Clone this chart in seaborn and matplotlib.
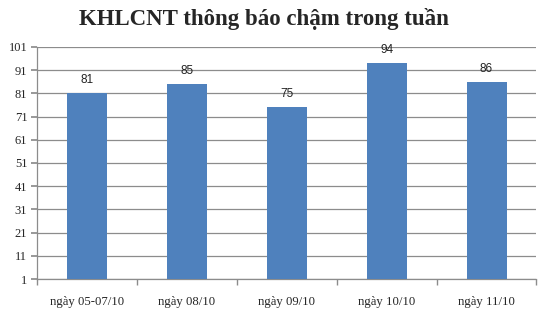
import matplotlib
matplotlib.use("Agg")
import matplotlib.pyplot as plt
import seaborn as sns
import pandas as pd

categories = ["ngày 05-07/10", "ngày 08/10", "ngày 09/10", "ngày 10/10", "ngày 11/10"]
values = [81, 85, 75, 94, 86]
yticks = [1, 11, 21, 31, 41, 51, 61, 71, 81, 91, 101]
title = "KHLCNT thông báo chậm trong tuần"

sns.set_theme(style="white")
plt.rcParams['font.family'] = ['Liberation Serif', 'DejaVu Serif']

df = pd.DataFrame({"cat": categories, "val": values})

fig = plt.figure(figsize=(5.4, 3.09), dpi=100)
ax = fig.add_axes([0.0685, 0.097, 0.925, 0.751])
sns.barplot(data=df, x="cat", y="val", color="#4F81BD", width=0.4, saturation=1,
            linewidth=0, edgecolor="none", ax=ax, zorder=3)

ax.set_ylim(1, 101)
ax.set_yticks(yticks)
ax.set_yticklabels([str(t) for t in yticks], fontsize=9)
ax.set_xlim(-0.5, len(categories) - 0.5)
ax.set_xticks(range(len(categories)))
ax.set_xticklabels(categories, fontsize=9.2)
ax.set_xlabel("")
ax.set_ylabel("")
ax.yaxis.grid(True, color="#8c8c8c", linewidth=0.9, zorder=0)
ax.set_axisbelow(True)
for s in ["top", "right"]:
    ax.spines[s].set_visible(False)
for s in ["left", "bottom"]:
    ax.spines[s].set_color("#8c8c8c")
    ax.spines[s].set_linewidth(0.9)
ax.tick_params(axis="y", which="both", left=True, length=4, color="#8c8c8c", pad=3)
ax.tick_params(axis="x", bottom=False, pad=6)
# category boundary ticks
ax.set_xticks([i - 0.5 for i in range(len(categories) + 1)], minor=True)
ax.tick_params(axis="x", which="minor", bottom=True, length=4, color="#8c8c8c")

for i, v in enumerate(values):
    ax.text(i, v + 3, str(v), ha="center", va="bottom", fontsize=8.5,
            family=["Liberation Sans", "DejaVu Sans"], color="#222222")

fig.text(0.488, 0.94, title, ha="center", va="center", fontsize=16.5, fontweight="bold")

fig.savefig("out.png", dpi=100)
